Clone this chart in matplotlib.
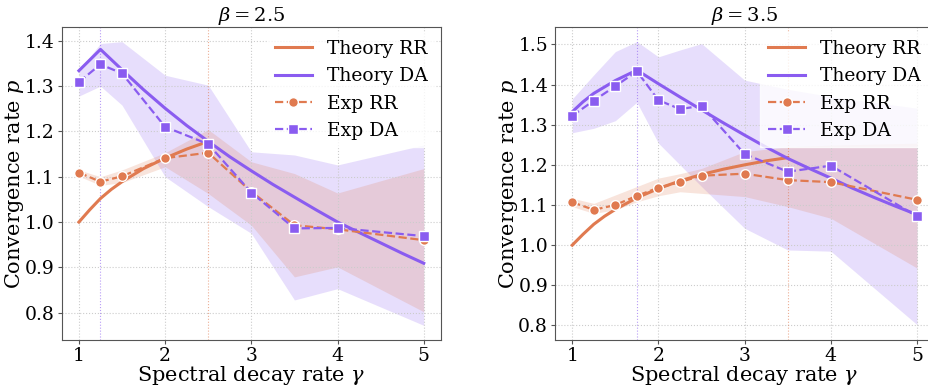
import matplotlib
matplotlib.use("Agg")
import matplotlib.pyplot as plt
import numpy as np

plt.rcParams['font.family'] = ['DejaVu Serif']
plt.rcParams['mathtext.fontset'] = 'dejavuserif'

C_RR = '#E07A50'
C_DA = '#8A5CF0'

# ---- beta = 2.5 ----
g_exp_a = [1, 1.25, 1.5, 2, 2.5, 3, 3.5, 4, 5]
rr_exp_a = [1.109, 1.089, 1.101, 1.141, 1.153, 1.067, 0.993, 0.984, 0.960]
da_exp_a = [1.309, 1.348, 1.328, 1.210, 1.172, 1.065, 0.986, 0.987, 0.969]
rr_lo_a = [1.101, 1.081, 1.087, 1.122, 1.063, 0.993, 0.879, 0.901, 0.802]
rr_hi_a = [1.115, 1.100, 1.115, 1.153, 1.204, 1.133, 1.107, 1.064, 1.118]
da_lo_a = [1.278, 1.300, 1.258, 1.100, 1.034, 0.975, 0.828, 0.853, 0.772]
da_hi_a = [1.335, 1.394, 1.398, 1.324, 1.302, 1.155, 1.148, 1.126, 1.170]

g_th_da_a = [1, 1.25, 1.5, 1.75, 2, 2.25, 2.5, 2.75, 3, 3.25, 3.5, 3.75, 4, 4.25, 4.5, 4.75, 5]
th_da_a = [1.334, 1.381, 1.336, 1.292, 1.251, 1.213, 1.178, 1.144, 1.113, 1.083,
           1.055, 1.027, 1.0, 0.977, 0.954, 0.931, 0.909]
g_th_rr_a = [1, 1.125, 1.25, 1.375, 1.5, 1.75, 2, 2.25, 2.5]
th_rr_a = [1.0, 1.027, 1.052, 1.072, 1.089, 1.118, 1.141, 1.161, 1.178]

# ---- beta = 3.5 ----
g_exp_b = [1, 1.25, 1.5, 1.75, 2, 2.25, 2.5, 3, 3.5, 4, 5]
rr_exp_b = [1.107, 1.088, 1.100, 1.123, 1.143, 1.157, 1.173, 1.178, 1.162, 1.157, 1.113]
da_exp_b = [1.322, 1.360, 1.396, 1.433, 1.361, 1.339, 1.347, 1.227, 1.183, 1.198, 1.072]
rr_lo_b = [1.096, 1.079, 1.088, 1.108, 1.123, 1.133, 1.129, 1.121, 1.096, 1.067, 0.943]
rr_hi_b = [1.117, 1.104, 1.125, 1.146, 1.167, 1.178, 1.191, 1.233, 1.245, 1.249, 1.254]
da_lo_b = [1.280, 1.291, 1.310, 1.356, 1.254, 1.200, 1.146, 1.042, 0.988, 0.985, 0.802]
da_hi_b = [1.364, 1.424, 1.482, 1.507, 1.469, 1.486, 1.502, 1.411, 1.388, 1.370, 1.341]

g_th_da_b = [1, 1.125, 1.25, 1.5, 1.75, 2, 2.25, 2.5, 2.75, 3, 3.25, 3.5, 3.75, 4, 4.25, 4.5, 4.75, 5]
th_da_b = [1.332, 1.357, 1.378, 1.410, 1.436, 1.402, 1.369, 1.337, 1.305, 1.274,
           1.244, 1.216, 1.191, 1.167, 1.142, 1.119, 1.097, 1.076]
g_th_rr_b = [1, 1.125, 1.25, 1.375, 1.5, 1.75, 2, 2.25, 2.5, 2.75, 3, 3.25, 3.5]
th_rr_b = [1.0, 1.027, 1.052, 1.072, 1.089, 1.118, 1.141, 1.160, 1.176, 1.189, 1.200, 1.210, 1.218]

panels = [
    dict(beta=2.5, g=g_exp_a, rr=rr_exp_a, da=da_exp_a, rr_lo=rr_lo_a, rr_hi=rr_hi_a,
         da_lo=da_lo_a, da_hi=da_hi_a, gda=g_th_da_a, tda=th_da_a, grr=g_th_rr_a, trr=th_rr_a,
         vda=1.25, ylim=(0.739, 1.431), yt=[0.8, 0.9, 1.0, 1.1, 1.2, 1.3, 1.4],
         pos=[0.0664, 0.1229, 0.4083, 0.8082]),
    dict(beta=3.5, g=g_exp_b, rr=rr_exp_b, da=da_exp_b, rr_lo=rr_lo_b, rr_hi=rr_hi_b,
         da_lo=da_lo_b, da_hi=da_hi_b, gda=g_th_da_b, tda=th_da_b, grr=g_th_rr_b, trr=th_rr_b,
         vda=1.75, ylim=(0.763, 1.544), yt=[0.8, 0.9, 1.0, 1.1, 1.2, 1.3, 1.4, 1.5],
         pos=[0.5974, 0.1229, 0.4083, 0.8082]),
]

fig = plt.figure(figsize=(9.29, 3.88), dpi=100)

for p in panels:
    ax = fig.add_axes(p['pos'])
    ax.fill_between(p['g'], p['da_lo'], p['da_hi'], color=C_DA, alpha=0.2, lw=0)
    ax.fill_between(p['g'], p['rr_lo'], p['rr_hi'], color=C_RR, alpha=0.2, lw=0)
    ax.axvline(p['vda'], color=C_DA, ls=':', lw=0.8, alpha=0.6)
    ax.axvline(p['beta'], color=C_RR, ls=':', lw=0.8, alpha=0.6)
    ax.plot(p['grr'], p['trr'], color=C_RR, lw=2.2, label='Theory RR')
    ax.plot(p['gda'], p['tda'], color=C_DA, lw=2.2, label='Theory DA')
    ax.plot(p['g'], p['rr'], color=C_RR, ls='--', lw=1.6, marker='o', ms=7,
            mec='white', mew=1, label='Exp RR')
    ax.plot(p['g'], p['da'], color=C_DA, ls='--', lw=1.6, marker='s', ms=7,
            mec='white', mew=1, label='Exp DA')
    ax.set_xlim(0.8, 5.2)
    ax.set_ylim(*p['ylim'])
    ax.set_xticks([1, 2, 3, 4, 5])
    ax.set_yticks(p['yt'])
    ax.grid(True, ls=':', color='#cccccc', lw=0.8)
    ax.tick_params(labelsize=13.5, length=3, pad=2, color='#555555')
    for s in ax.spines.values():
        s.set_color('#555555')
    ax.set_title(r'$\beta=%.1f$' % p['beta'], fontsize=14, pad=4)
    ax.set_xlabel(r'Spectral decay rate $\gamma$', fontsize=15, labelpad=-1)
    ax.set_ylabel(r'Convergence rate $p$', fontsize=15, labelpad=-1)
    leg = ax.legend(loc='upper right', fontsize=13.5, frameon=True, framealpha=0.8,
                    edgecolor='white', fancybox=False, borderaxespad=0.3)

fig.savefig('out.png', dpi=100)
